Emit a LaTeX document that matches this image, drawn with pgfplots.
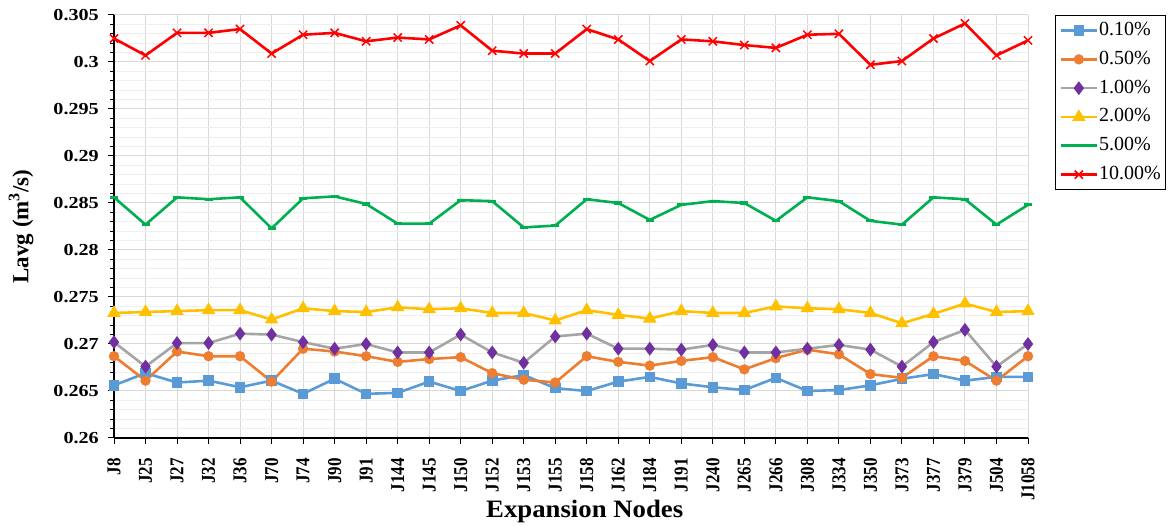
\documentclass[border=0pt]{standalone}
\usepackage{fontspec}
\setmainfont{Liberation Serif}
\newfontfamily\ytickfont{Liberation Serif}[FakeStretch=1.2]
\newfontfamily\xtickfont{Liberation Serif}[FakeStretch=0.87]
\newfontfamily\xlabfont{Liberation Serif}[FakeStretch=1.07]
\usepackage{pgfplots}
\usepackage{pgfplotstable}
\pgfplotsset{compat=1.18}
\definecolor{cblue}{HTML}{5B9BD5}
\definecolor{corange}{HTML}{ED7D31}
\definecolor{cgray}{HTML}{A5A5A5}
\definecolor{cpurple}{HTML}{7030A0}
\definecolor{cyellow}{HTML}{FFC000}
\definecolor{cgreen}{HTML}{00B050}
\definecolor{cred}{HTML}{FF0000}
\definecolor{gridmaj}{HTML}{D9D9D9}
\definecolor{gridmin}{HTML}{EFEFEF}
\pgfplotstableread{
x b o p y g r
0 0.2656 0.2687 0.2702 0.2733 0.2856 0.3025
1 0.2669 0.2661 0.2676 0.2734 0.2827 0.3007
2 0.2659 0.2692 0.2701 0.2735 0.2856 0.3031
3 0.2661 0.2687 0.2701 0.2736 0.2854 0.3031
4 0.2654 0.2687 0.2711 0.2736 0.2856 0.3035
5 0.2661 0.2660 0.2710 0.2726 0.2823 0.3009
6 0.2647 0.2695 0.2702 0.2738 0.2855 0.3029
7 0.2663 0.2692 0.2695 0.2735 0.2857 0.3031
8 0.2647 0.2687 0.2700 0.2734 0.2849 0.3022
9 0.2648 0.2681 0.2691 0.2739 0.2828 0.3026
10 0.2660 0.2684 0.2691 0.2737 0.2828 0.3024
11 0.2650 0.2686 0.2710 0.2738 0.2853 0.3039
12 0.2661 0.2669 0.2691 0.2733 0.2852 0.3012
13 0.2667 0.2662 0.2680 0.2733 0.2824 0.3009
14 0.2653 0.2659 0.2708 0.2725 0.2826 0.3009
15 0.2650 0.2687 0.2711 0.2736 0.2854 0.3035
16 0.2660 0.2681 0.2695 0.2731 0.2850 0.3024
17 0.2665 0.2677 0.2695 0.2727 0.2832 0.3001
18 0.2658 0.2682 0.2694 0.2735 0.2848 0.3024
19 0.2654 0.2686 0.2699 0.2733 0.2852 0.3022
20 0.2651 0.2673 0.2691 0.2733 0.2850 0.3018
21 0.2664 0.2685 0.2691 0.2740 0.2831 0.3015
22 0.2650 0.2694 0.2695 0.2738 0.2856 0.3029
23 0.2651 0.2689 0.2699 0.2737 0.2852 0.3030
24 0.2656 0.2668 0.2694 0.2733 0.2831 0.2997
25 0.2663 0.2664 0.2676 0.2722 0.2827 0.3001
26 0.2668 0.2687 0.2702 0.2732 0.2856 0.3025
27 0.2661 0.2682 0.2715 0.2743 0.2854 0.3041
28 0.2665 0.2661 0.2676 0.2734 0.2827 0.3007
29 0.2665 0.2687 0.2700 0.2735 0.2848 0.3023
}\datatable
\begin{document}
\begin{tikzpicture}
\begin{axis}[
  at={(114pt,88pt)}, anchor=south west,
  scale only axis, width=914pt, height=423pt,
  xmin=0, xmax=29, ymin=0.26, ymax=0.305,
  axis lines*=left,
  axis line style={black, line width=1.3pt, -},
  xtick={0,...,29},
  xticklabels={J8,J25,J27,J32,J36,J70,J74,J90,J91,J144,J145,J150,J152,J153,J155,J158,J162,J184,J191,J240,J265,J266,J308,J334,J350,J373,J377,J379,J504,J1058},
  ytick={0.26,0.265,0.27,0.275,0.28,0.285,0.29,0.295,0.3,0.305},
  yticklabels={0.26,0.265,0.27,0.275,0.28,0.285,0.29,0.295,0.3,0.305},
  minor y tick num=4,
  grid=both,
  major grid style={gridmaj, line width=1pt},
  minor grid style={gridmin, line width=0.8pt},
  tick align=outside,
  major tick length=6pt, minor tick length=4pt,
  tick style={black, line width=1pt},
  xticklabel style={rotate=90, anchor=east, inner sep=0pt, font=\xtickfont\bfseries\fontsize{19.6}{20}\selectfont},
  yticklabel style={anchor=east, inner sep=0pt, font=\ytickfont\bfseries\fontsize{16.8}{18}\selectfont},
  xticklabel shift=14pt,
  yticklabel shift=9pt,
  /pgf/number format/assume math mode=true,
  xlabel={Expansion Nodes},
  ylabel={Lavg (m\textsuperscript{3}/s)},
  xlabel style={at={(axis description cs:0.515,-0.173)}, anchor=center, font=\xlabfont\bfseries\fontsize{25}{28}\selectfont},
  ylabel style={at={(axis description cs:-0.1017,0.5)}, anchor=center, rotate=0, font=\bfseries\fontsize{23}{26}\selectfont},
  legend style={at={(axis description cs:1.0295,1.0)}, anchor=north west, draw=black, line width=1.2pt,
    font=\fontsize{20}{22}\selectfont, inner xsep=4pt, inner ysep=5pt, row sep=8.8pt,
    nodes={inner sep=1pt, text height=14pt, text depth=4pt}},
  legend cell align=left,
  legend image code/.code={\draw[mark repeat=2, mark phase=2] plot coordinates {(0pt,0pt) (18pt,0pt) (36pt,0pt)};},
  every axis plot/.append style={line width=2.6pt},
]
\addplot[color=cblue, mark=square*, mark size=4pt, mark options={solid}] table[x=x,y=b]{\datatable};
\addlegendentry{0.10\%}
\addplot[color=corange, mark=*, mark size=3.8pt] table[x=x,y=o]{\datatable};
\addlegendentry{0.50\%}
\addplot[color=cgray, mark=diamond*, mark size=4.8pt, mark options={draw=cpurple, fill=cpurple}] table[x=x,y=p]{\datatable};
\addlegendentry{1.00\%}
\addplot[color=cyellow, mark=triangle*, mark size=5.2pt] table[x=x,y=y]{\datatable};
\addlegendentry{2.00\%}
\addplot[color=cgreen, mark=-, mark size=4pt, mark options={line width=3.2pt}] table[x=x,y=g]{\datatable};
\addlegendentry{5.00\%}
\addplot[color=cred, mark=x, mark size=5.8pt, mark options={line width=1.5pt}] table[x=x,y=r]{\datatable};
\addlegendentry{10.00\%}
\end{axis}
\pgfresetboundingbox
\path (0pt,0pt) rectangle (1169pt,526pt);
\end{tikzpicture}
\end{document}
